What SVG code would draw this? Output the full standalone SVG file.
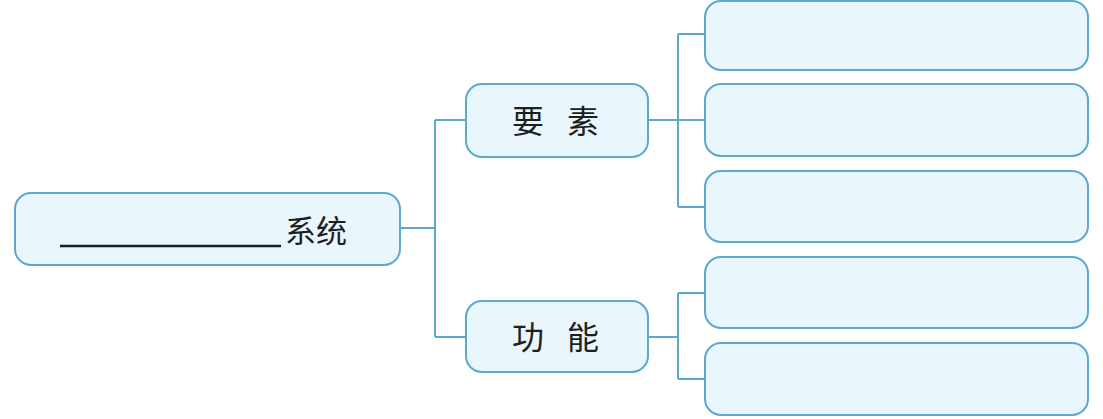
<svg xmlns="http://www.w3.org/2000/svg" width="1103" height="419" viewBox="0 0 1103 419">
<style>
.box{fill:#e9f6fb;stroke:#5ea8cc;stroke-width:2}
.conn{fill:none;stroke:#5ea8cc;stroke-width:2}
.lbl{font-family:"Noto Sans CJK SC","Noto Sans CJK TC",sans-serif;font-size:32px;fill:#1e1e1e}
</style>
<rect width="1103" height="419" fill="#ffffff"/>
<g id="connectors">
<path class="conn" d="M400,228 H435 M435,120 V337 M435,120 H466 M435,337 H466"/>
<path class="conn" d="M648,120 H678 M678,34 V207 M678,34 H705 M678,120 H705 M678,207 H705"/>
<path class="conn" d="M648,337 H678 M678,293 V379 M678,293 H705 M678,379 H705"/>
</g>
<g id="node-system">
<rect class="box" x="15" y="193" width="385" height="72" rx="16"/>
<line x1="60" y1="246" x2="281" y2="246" stroke="#1e1e1e" stroke-width="2.5"/>
<text class="lbl" x="285" y="242" style="font-size:31px">系统</text>
</g>
<g id="node-elements">
<rect class="box" x="466" y="84" width="182" height="73" rx="16"/>
<text class="lbl" y="133"><tspan x="512">要</tspan><tspan x="567">素</tspan></text>
</g>
<g id="node-functions">
<rect class="box" x="466" y="301" width="182" height="71" rx="16"/>
<text class="lbl" y="349"><tspan x="512">功</tspan><tspan x="567">能</tspan></text>
</g>
<g id="node-e1"><rect class="box" x="705" y="1" width="383" height="69" rx="16"/></g>
<g id="node-e2"><rect class="box" x="705" y="84" width="383" height="72" rx="16"/></g>
<g id="node-e3"><rect class="box" x="705" y="171" width="383" height="71" rx="16"/></g>
<g id="node-f1"><rect class="box" x="705" y="257" width="383" height="71" rx="16"/></g>
<g id="node-f2"><rect class="box" x="705" y="343" width="383" height="72" rx="16"/></g>
</svg>
